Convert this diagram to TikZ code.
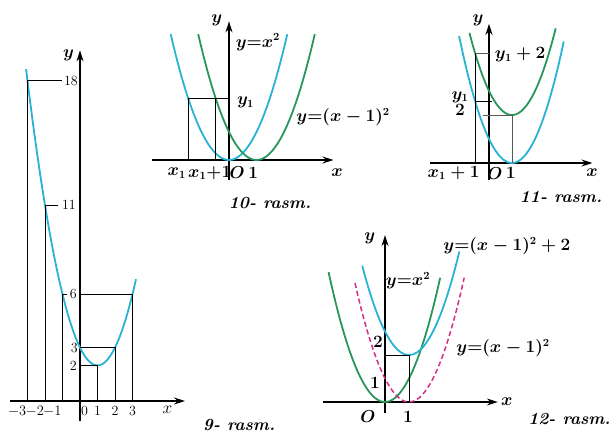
\documentclass[tikz,border=0pt]{standalone}
\usepackage{amsmath}
\usepackage{tikz}
\usetikzlibrary{arrows.meta,positioning}
\definecolor{curveblue}{RGB}{40,178,212}
\definecolor{curvegreen}{RGB}{40,150,92}
\definecolor{curvepink}{RGB}{212,45,130}

\tikzset{
  axis/.style={->,line width=1.3pt},
  guide/.style={line width=0.8pt},
  thinguide/.style={line width=0.6pt,black!65},
  blueline/.style={curveblue,line width=1.8pt},
  greenline/.style={curvegreen,line width=1.8pt},
  pinkline/.style={curvepink,line width=1.5pt,dash pattern=on 5pt off 3pt},
  lbl/.style={font=\fontsize{16}{18}\selectfont\boldmath,inner sep=1pt},
  ticklbl/.style={font=\fontsize{14}{16}\selectfont,inner sep=1pt},
  capt/.style={font=\fontsize{17}{19}\selectfont\bfseries\itshape}
}

\begin{document}
\begin{tikzpicture}[x=1pt,y=1pt,>={Stealth[length=11pt,width=7pt]}]
  \useasboundingbox (0,0) rectangle (613,433);

  % 9- rasm.
  \begin{scope}[shift={(80pt,32pt)},x=17.5pt,y=17.8pt]
    \draw[axis] (-4,0) -- (6,0);
    \draw[axis] (0,-1.1) -- (0,19.7);
    \draw[blueline] plot[domain=-3.08:3.2,samples=60,smooth] (\x,{(\x-1)^2+2});
    \node[ticklbl,anchor=east,inner sep=2pt] (t18) at (0,18) {18};
    \node[ticklbl,anchor=east,inner sep=4pt] (t11) at (0,11) {11};
    \node[ticklbl,anchor=east,inner sep=3pt] (t6) at (0,6) {6};
    \node[ticklbl,anchor=east,inner sep=2pt] (t3) at (0,3) {3};
    \node[ticklbl,anchor=east,inner sep=3pt] (t2) at (0,2) {2};
    \draw[guide] (-3,0) -- (-3,18) -- (t18.west);
    \draw[guide] (t18.east) -- (0,18);
    \draw[guide] (-2,0) -- (-2,11) -- (t11.west);
    \draw[guide] (-1,0) -- (-1,6) -- (t6.west);
    \draw[guide] (0,6) -- (3,6) -- (3,0);
    \draw[guide] (0,3) -- (2,3) -- (2,0);
    \draw[guide] (t2.east) -- (1,2) -- (1,0);
    \foreach \k in {-3,-2,-1}
      \node[ticklbl,anchor=north east] (xm\k) at (\k,-0.2) {$\k$};
    \node[ticklbl,anchor=north west] (x0) at (0,-0.2) {0};
    \foreach \k in {1,2,3}
      \node[ticklbl,anchor=north] (xp\k) at (\k,-0.2) {\k};
    \node[ticklbl,font=\fontsize{16}{18}\selectfont] (xname) at (5.0,-0.5) {$x$};
    \node[lbl] (yname) at (-0.65,19.4) {$y$};
  \end{scope}
  \node[capt] (c9) at (239,8) {9- rasm.};

  % 10- rasm.
  \begin{scope}[shift={(229pt,273pt)},x=27.5pt,y=28pt]
    \draw[axis] (-2.8,0) -- (3.8,0);
    \draw[axis] (0,-0.7) -- (0,4.95);
    \draw[blueline] plot[domain=-2.12:2.12,samples=50,smooth] (\x,{\x*\x});
    \draw[greenline] plot[domain=-1.12:3.12,samples=50,smooth] (\x,{(\x-1)^2});
    \draw[guide] (-1.48,0) -- (-1.48,2.19) -- (0,2.19);
    \draw[guide] (-0.48,0) -- (-0.48,2.19);
    \node[lbl] (ya) at (0.6,2.05) {$y_1$};
    \node[lbl] (fa) at (1.05,4.21) {$y{=}x^2$};
    \node[lbl] (fb) at (4.15,1.54) {$y{=}(x-1)^2$};
    \node[lbl] (xa) at (-1.9,-0.46) {$x_1$};
    \node[lbl] (xb) at (-0.7,-0.46) {$x_1{+}1$};
    \node[lbl] (oa) at (0.3,-0.46) {$O$};
    \node[lbl] (one) at (0.88,-0.46) {$1$};
    \node[lbl] (xname) at (3.93,-0.46) {$x$};
    \node[lbl] (yname) at (-0.44,5.0) {$y$};
  \end{scope}
  \node[capt] (c10) at (270,230) {10- rasm.};

  % 11- rasm.
  \begin{scope}[shift={(489pt,270pt)},x=23pt,y=24pt]
    \draw[axis] (-2.57,0) -- (4.5,0);
    \draw[axis] (0,-0.7) -- (0,5.8);
    \draw[blueline] plot[domain=-1.3:3.25,samples=50,smooth] (\x,{(\x-1)^2});
    \draw[greenline] plot[domain=-0.85:2.9,samples=50,smooth] (\x,{(\x-1)^2+2});
    \draw[guide] (-0.6,0) -- (-0.6,4.56);
    \draw[guide] (-0.6,2.56) -- (0.15,2.56);
    \draw[thinguide] (-0.6,4.56) -- (0,4.56);
    \draw[thinguide] (-0.26,2) -- (1,2) -- (1,0);
    \node[lbl,anchor=west] (yb) at (0.2,4.5) {$y_1+2$};
    \node[lbl] (ya) at (-1.26,2.75) {$y_1$};
    \node[lbl] (two) at (-1.26,2.2) {$2$};
    \node[lbl] (xb) at (-1.54,-0.42) {$x_1+1$};
    \node[lbl] (oa) at (0.26,-0.42) {$O$};
    \node[lbl] (one) at (0.95,-0.42) {$1$};
    \node[lbl] (xname) at (4.48,-0.42) {$x$};
    \node[lbl] (yname) at (-0.48,5.96) {$y$};
  \end{scope}
  \node[capt] (c11) at (561,236) {11- rasm.};

  % 12- rasm.
  \begin{scope}[shift={(385pt,31pt)},x=24pt,y=23.5pt]
    \draw[axis] (-2.6,0) -- (4.7,0);
    \draw[axis] (0,-0.47) -- (0,7.1);
    \draw[greenline] plot[domain=-2.35:2.3,samples=50,smooth] (\x,{\x*\x});
    \draw[pinkline] plot[domain=-1.25:3.3,samples=50,smooth] (\x,{(\x-1)^2});
    \draw[blueline] plot[domain=-0.95:3.1,samples=50,smooth] (\x,{(\x-1)^2+2});
    \draw[guide] (0,2) -- (1,2) -- (1,0);
    \node[lbl] (two) at (-0.29,2.55) {$2$};
    \node[lbl] (onea) at (-0.42,0.81) {$1$};
    \node[lbl] (oa) at (-0.71,-0.64) {$O$};
    \node[lbl] (one) at (0.96,-0.64) {$1$};
    \node[lbl] (xname) at (5.08,0) {$x$};
    \node[lbl] (yname) at (-0.63,6.98) {$y$};
    \node[lbl] (fa) at (0.96,5.15) {$y{=}x^2$};
    \node[lbl] (fc) at (5.08,6.64) {$y{=}(x-1)^2+2$};
    \node[lbl] (fb) at (4.92,2.3) {$y{=}(x-1)^2$};
  \end{scope}
  \node[capt,anchor=east] (c12) at (614,14) {12- rasm.};
\end{tikzpicture}
\end{document}
